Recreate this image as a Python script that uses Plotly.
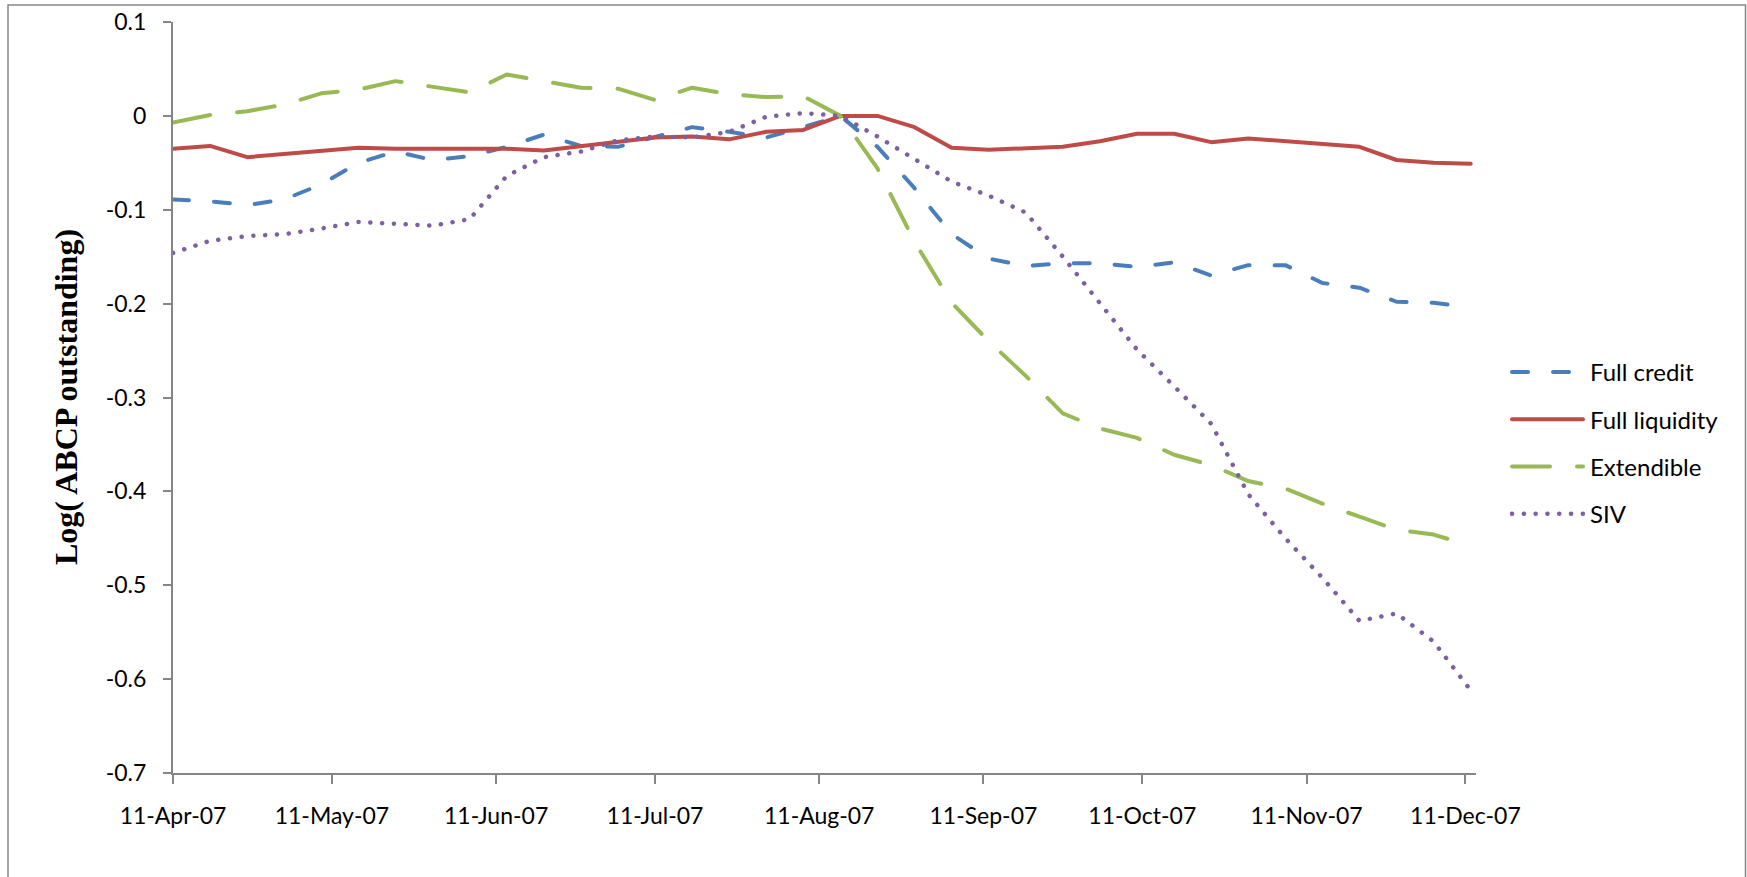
import plotly.graph_objects as go

dates = [
    "2007-04-11", "2007-04-18", "2007-04-25", "2007-05-02", "2007-05-09", "2007-05-16",
    "2007-05-23", "2007-05-30", "2007-06-06", "2007-06-13", "2007-06-20", "2007-06-27",
    "2007-07-04", "2007-07-11", "2007-07-18", "2007-07-25", "2007-08-01", "2007-08-08",
    "2007-08-15", "2007-08-22", "2007-08-29", "2007-09-05", "2007-09-12", "2007-09-19",
    "2007-09-26", "2007-10-03", "2007-10-10", "2007-10-17", "2007-10-24", "2007-10-31",
    "2007-11-07", "2007-11-14", "2007-11-21", "2007-11-28", "2007-12-05", "2007-12-12",
]

full_credit = [
    -0.089, -0.091, -0.095, -0.089, -0.073, -0.050, -0.038, -0.047, -0.043, -0.033,
    -0.020, -0.032, -0.033, -0.023, -0.012, -0.017, -0.023, -0.012, 0.000, -0.033,
    -0.077, -0.126, -0.152, -0.160, -0.157, -0.157, -0.161, -0.156, -0.170, -0.159,
    -0.159, -0.178, -0.183, -0.198, -0.199, -0.204,
]
full_liquidity = [
    -0.035, -0.032, -0.044, -0.041, -0.038, -0.034, -0.035, -0.035, -0.035, -0.035,
    -0.037, -0.032, -0.028, -0.023, -0.022, -0.025, -0.017, -0.015, 0.000, 0.000,
    -0.012, -0.034, -0.036, -0.035, -0.033, -0.027, -0.019, -0.019, -0.028, -0.024,
    -0.027, -0.030, -0.033, -0.047, -0.050, -0.051,
]
extendible = [
    -0.007, 0.001, 0.005, 0.012, 0.024, 0.028, 0.037, 0.031, 0.025, 0.044,
    0.037, 0.030, 0.029, 0.017, 0.030, 0.023, 0.020, 0.021, 0.000, -0.056,
    -0.134, -0.199, -0.240, -0.277, -0.317, -0.333, -0.343, -0.361, -0.372, -0.389,
    -0.397, -0.413, -0.427, -0.441, -0.446, -0.458,
]
siv = [
    -0.146, -0.133, -0.128, -0.126, -0.120, -0.113, -0.115, -0.117, -0.110, -0.064,
    -0.044, -0.038, -0.026, -0.022, -0.023, -0.017, -0.001, 0.003, 0.000, -0.022,
    -0.046, -0.070, -0.085, -0.103, -0.150, -0.200, -0.249, -0.288, -0.328, -0.403,
    -0.450, -0.492, -0.538, -0.530, -0.560, -0.612,
]

series_names = ["Full credit", "Full liquidity", "Extendible", "SIV"]

x_tick_vals = ["2007-04-11", "2007-05-11", "2007-06-11", "2007-07-11", "2007-08-11",
               "2007-09-11", "2007-10-11", "2007-11-11", "2007-12-11"]
x_tick_text = ["11-Apr-07", "11-May-07", "11-Jun-07", "11-Jul-07", "11-Aug-07",
               "11-Sep-07", "11-Oct-07", "11-Nov-07", "11-Dec-07"]
y_tick_vals = [0.1, 0.0, -0.1, -0.2, -0.3, -0.4, -0.5, -0.6, -0.7]
y_tick_text = ["0.1", "0", "-0.1", "-0.2", "-0.3", "-0.4", "-0.5", "-0.6", "-0.7"]

y_title = "Log( ABCP outstanding)"

styles = [
    dict(color="#4A7EBB", dash="16px,25px", width=4),
    dict(color="#BE4B48", dash="solid", width=4),
    dict(color="#98B954", dash="38px,27px", width=4),
    dict(color="#7D60A0", dash="0.1px,11.7px", width=4.5),
]
values = [full_credit, full_liquidity, extendible, siv]

fig = go.Figure()
for i, (name, vals, st) in enumerate(zip(series_names, values, styles)):
    fig.add_trace(go.Scatter(
        x=dates, y=vals, name=name, mode="lines", line=st,
        legendgroup=f"g{i}",
    ))

axis_color = "#868686"
tick_font = dict(family="Lato", size=23, color="#000000")

fig.update_layout(
    width=1747, height=877,
    margin=dict(l=173, r=271, t=22, b=104, autoexpand=False),
    paper_bgcolor="white", plot_bgcolor="white",
    showlegend=True,
    legend=dict(
        x=1.0261, xanchor="left", y=0.4394, yanchor="middle",
        font=dict(family="Lato", size=24, color="#000000"),
        tracegroupgap=13, itemwidth=70, bgcolor="rgba(0,0,0,0)",
    ),
    xaxis=dict(
        type="date", range=["2007-04-11", "2007-12-13"],
        tickvals=x_tick_vals, ticktext=x_tick_text,
        showgrid=False, zeroline=False,
        showline=True, linecolor=axis_color, linewidth=2,
        ticks="outside", ticklen=9, tickwidth=1.5, tickcolor=axis_color,
        tickfont=tick_font, ticklabelstandoff=12, automargin=False,
    ),
    yaxis=dict(
        range=[-0.7, 0.1],
        tickvals=y_tick_vals, ticktext=y_tick_text,
        showgrid=False, zeroline=False,
        showline=True, linecolor=axis_color, linewidth=2,
        ticks="outside", ticklen=8, tickwidth=1.5, tickcolor=axis_color,
        tickfont=tick_font, ticklabelstandoff=12, automargin=False,
    ),
    annotations=[dict(
        text=y_title, xref="paper", yref="paper",
        x=-0.0825, y=0.5, xanchor="center", yanchor="middle",
        textangle=-90, showarrow=False,
        font=dict(family="Liberation Serif", size=32, color="#000000", weight=700),
    )],
    shapes=[dict(
        type="rect", xref="paper", yref="paper",
        x0=-0.12663, x1=1.20683, y0=-0.169, y1=1.02264,
        line=dict(color=axis_color, width=1.5), fillcolor="rgba(0,0,0,0)",
        layer="below",
    )],
)

post = """
document.body.style.margin = '0';
document.body.style.overflow = 'hidden';
var st = document.createElement('style');
st.textContent = '.js-line { stroke-linecap: round; stroke-linejoin: round; }';
document.head.appendChild(st);
var gd = document.getElementById('{plot_id}');
function fixLegend() {
    gd.querySelectorAll('.legendlines path').forEach(function (p) {
        p.setAttribute('d', 'M2,0h71');
    });
}
fixLegend();
if (gd.on) { gd.on('plotly_afterplot', fixLegend); }
"""

fig.write_html("out.html", post_script=post, config={"displayModeBar": False})
